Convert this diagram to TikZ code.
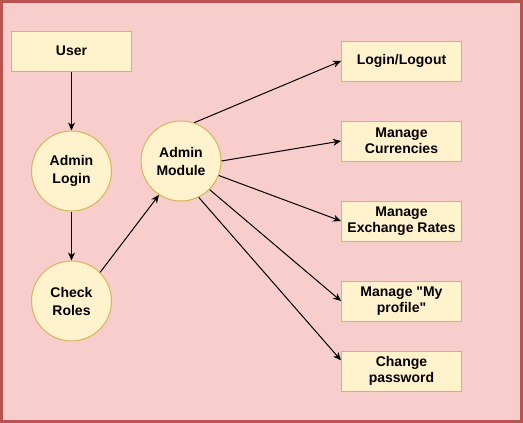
\documentclass[tikz,border=0pt]{standalone}
\usepackage{fontspec}
\setmainfont[Ligatures=TeXOff]{Liberation Sans}
\usepackage{tikz}
\usetikzlibrary{shapes.geometric, arrows.meta}
\definecolor{bgFill}{HTML}{F8CECC}
\definecolor{bgLine}{HTML}{B85450}
\definecolor{boxFill}{HTML}{FFF2CC}
\definecolor{boxLine}{HTML}{D6B656}
\tikzstyle{arrow} = [line width=1pt,->,>={Stealth[length=8pt,width=7pt,inset=2.5pt]}]
\tikzstyle{rec} = [rectangle, minimum width=120pt, minimum height=40pt, inner sep=0pt, align=center, fill=boxFill, draw=boxLine, line width=1pt, font=\fontsize{14}{16}\selectfont\bfseries]
\tikzstyle{circ} = [circle, minimum size=80pt, inner sep=0pt, align=center, fill=boxFill, draw=boxLine, line width=1pt, font=\fontsize{14}{18}\selectfont\bfseries]

\begin{document}
\begin{tikzpicture}[x=1pt, y=-1pt]
		\useasboundingbox (0,0) rectangle (523,423);
		\draw [fill=bgFill, draw=bgLine, line width=3pt] (1.5,1.5) rectangle (521.5,421.5);
		\node (user) [rec] at (71.5,51) {User};
		\node (login) [circ] at (71.5,171) {Admin\\Login};
		\node (roles) [circ] at (71.5,301) {Check\\Roles};
		\node (module) [circ] at (181,161) {Admin\\Module};
		\node (logout) [rec] at (401.5,61) {Login/Logout};
		\node (currency) [rec] at (401.5,141) {Manage\\Currencies};
		\node (rates) [rec] at (401.5,221) {Manage\\Exchange Rates};
		\node (profile) [rec] at (401.5,301) {Manage "My\\profile"};
		\node (password) [rec] at (401.5,371) {Change\\password};
		\draw [arrow] (user) -- (login);
		\draw [arrow] (login) -- (roles);
		\draw [arrow] (roles.45) -- (module.237);
		\draw [arrow] (module.71) -- (logout.west);
		\draw [arrow] (module.0) -- (currency.west);
		\draw [arrow] (module.-21) -- (rates.west);
		\draw [arrow] (module.-45) -- (profile.west);
		\draw [arrow] (module.-64) -- (password.170);
	\end{tikzpicture}
\end{document}
